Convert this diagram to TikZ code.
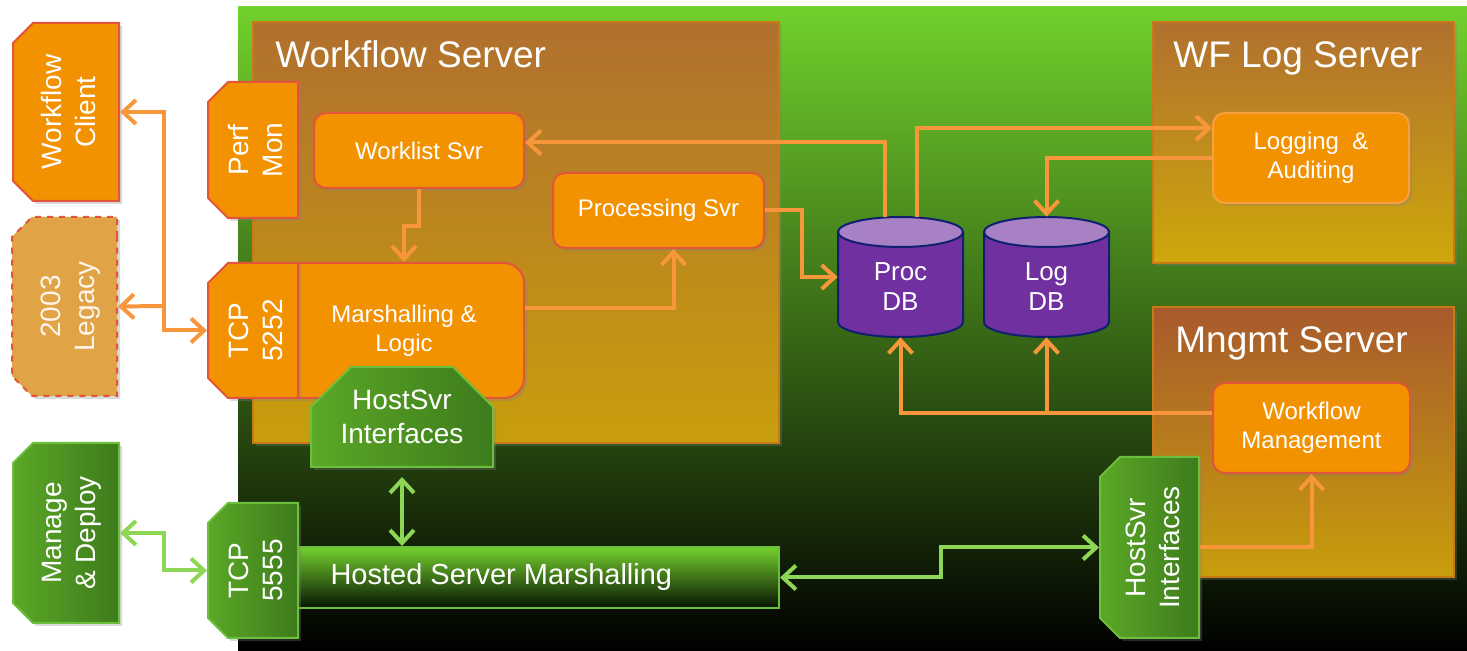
\documentclass[tikz,border=0pt]{standalone}
\usepackage{fontspec}
\setmainfont{Liberation Sans}
\usepackage{graphicx}
\usetikzlibrary{arrows.meta,fit,shapes.misc,shadows}

\definecolor{bgtop}{HTML}{72D12D}
\definecolor{bgmid}{HTML}{4C9323}
\definecolor{srvtop}{HTML}{B1702F}
\definecolor{srvbot}{HTML}{C89E0C}
\definecolor{mngtop}{HTML}{A85A2C}
\definecolor{srvline}{HTML}{C97A14}
\definecolor{ofill}{HTML}{F29200}
\definecolor{oline}{HTML}{E2553A}
\definecolor{lgline}{HTML}{F6A040}
\definecolor{legfill}{HTML}{E0A345}
\definecolor{gleft}{HTML}{5BA827}
\definecolor{gright}{HTML}{3D7B1C}
\definecolor{gline}{HTML}{6CBF3C}
\definecolor{hsmtop}{HTML}{74D02D}
\definecolor{hsmmid}{HTML}{3A7E1A}
\definecolor{hsmbot}{HTML}{081404}
\definecolor{dbfill}{HTML}{7030A0}
\definecolor{dbtopc}{HTML}{A881C5}
\definecolor{dbline}{HTML}{102070}
\definecolor{oarrow}{HTML}{F7963A}
\definecolor{garrow}{HTML}{8ED655}

% rotated two-line label, kept out of the node size
\newcommand{\uptext}[1]{\makebox[0pt]{\hspace{6pt}\rotatebox{90}{\begin{tabular}{@{}c@{}}#1\end{tabular}}}}

\tikzset{
  shad/.style={drop shadow={opacity=0.3, shadow xshift=1.5pt, shadow yshift=-1.5pt}},
  srvbox/.style={draw=srvline, line width=1pt, top color=srvtop, bottom color=srvbot, shad},
  srvtitle/.style={text=white, font=\fontsize{18.5}{22}\selectfont, anchor=base west, inner sep=0pt},
  obox/.style={draw=oline, line width=1pt, fill=ofill, rounded corners=6pt, inner sep=0pt,
    text=white, align=center, font=\fontsize{12}{14.5}\selectfont, shad},
  cutbox/.style={chamfered rectangle, chamfered rectangle sep=10pt, inner sep=0pt,
    line width=1pt, text=white, font=\fontsize{14}{17}\selectfont, shad},
  ocut/.style={cutbox, draw=oline, fill=ofill},
  gcut/.style={cutbox, draw=gline, left color=gleft, right color=gright},
  dbbody/.style={draw=dbline, line width=1pt, fill=dbfill},
  dbtop/.style={draw=dbline, line width=1pt, fill=dbtopc},
  dbtext/.style={text=white, font=\fontsize{13}{15}\selectfont, align=center, inner sep=0pt},
  oarr/.style={draw=oarrow, line width=2pt},
  garr/.style={draw=garrow, line width=2pt}
}

\begin{document}
\begin{tikzpicture}[x=0.5pt, y=-0.5pt, >={Straight Barb[length=6.5pt,width=12pt]}]
\useasboundingbox (0,0) rectangle (1467,651);

% green backdrop
\shade[top color=bgtop, middle color=bgmid, bottom color=black] (238,7) rectangle (1467,651);

% servers
\node[srvbox, fit={(253,22)(779,443)}, inner sep=0pt] (wfsrv) {};
\node[srvbox, fit={(1153,22)(1454,263)}, inner sep=0pt, bottom color=srvbot!90!yellow] (logsrv) {};
\node[srvbox, fit={(1153,307)(1454,577)}, inner sep=0pt, top color=mngtop] (mngsrv) {};
\node[srvtitle] (wftitle) at (275,68) {Workflow Server};
\node[srvtitle] (logtitle) at (1173,68) {WF Log Server};
\node[srvtitle] (mngtitle) at (1175,353) {Mngmt Server};

% left side
\node[ocut, minimum width=53pt, minimum height=89pt, chamfered rectangle corners={north west,south west}] (wfc) at (66,112) {\uptext{Workflow\\Client}};
\node[ocut, minimum width=52.5pt, minimum height=89.5pt, chamfered rectangle corners={north west,south west},
  fill=legfill, dashed, text=white!92!orange] (leg) at (64.5,306.5) {\uptext{2003\\Legacy}};
\node[gcut, minimum width=53pt, minimum height=90pt, chamfered rectangle corners={north west,south west}] (md) at (66,533) {\uptext{Manage\\\& Deploy}};

% workflow server parts
\node[obox, minimum width=105pt, minimum height=37.5pt] (wl) at (419,150.5) {Worklist Svr};
\node[obox, minimum width=105.5pt, minimum height=37.5pt] (ps) at (658.5,210.5) {Processing Svr};
\node[obox, minimum width=120pt, minimum height=67.5pt, rounded corners=10pt] (mar) at (404,330.5) {Marshalling \&\\Logic};
\node[ocut, minimum width=45pt, minimum height=68pt, chamfered rectangle corners={north west,south west}] (perf) at (253,150) {\uptext{Perf\\Mon}};
\node[ocut, minimum width=45pt, minimum height=67.5pt, chamfered rectangle corners={north west,south west}] (tcp1) at (253,330.5) {\uptext{TCP\\5252}};
\node[gcut, minimum width=91pt, minimum height=50pt, chamfered rectangle corners={north west,north east}, align=center] (hs1) at (402,417) {HostSvr\\Interfaces};
\node[draw=gline, line width=1pt, top color=hsmtop, middle color=hsmmid, bottom color=hsmbot,
  minimum width=240.5pt, minimum height=30.5pt, inner sep=0pt, text=white, font=\fontsize{14.5}{17}\selectfont] (hsm) at (538.5,577.5)
  {\makebox[240pt][l]{\hspace{16pt}Hosted Server Marshalling}};
\node[gcut, minimum width=45pt, minimum height=67.5pt, chamfered rectangle corners={north west,south west}] (tcp2) at (253,570.5) {\uptext{TCP\\5555}};

% databases
\foreach \x/\n/\t in {838/pdb/Proc,984/ldb/Log}{
  \filldraw[dbbody] (\x,232) -- (\x,322) arc[start angle=180, end angle=360, x radius=31.25pt, y radius=7.5pt] -- ({\x+125},232) -- cycle;
  \filldraw[dbtop] ({\x+62.5},232) ellipse[x radius=31.25pt, y radius=7.5pt];
  \node[fit={(\x,217)({\x+125},337)}, inner sep=0pt] (\n) {};
  \node[dbtext] (\n txt) at ({\x+62.5},287) {\t\\DB};
}

% log and management parts
\node[obox, minimum width=98pt, minimum height=45pt, draw=lgline] (lg) at (1311,158) {Logging~~\&\\Auditing};
\node[obox, minimum width=98.5pt, minimum height=45pt] (wm) at (1311.5,428) {Workflow\\Management};
\node[gcut, minimum width=49.5pt, minimum height=90.5pt, chamfered rectangle corners={north west,south west}] (hs2) at (1149.5,547.5) {\uptext{HostSvr\\Interfaces}};

% orange links
\coordinate (lj) at (163,306);
\draw[oarr,<->] (wfc.east) -- ++(44,0) |- (tcp1.west);
\draw[oarr,->] (lj) -- (leg.east);
\draw[oarr,->] (wl.south) -- ++(0,37) -| (mar.north);
\draw[oarr,->] ([yshift=11pt]mar.east) -| ([xshift=7.5pt]ps.south);
\draw[oarr,->] (ps.east) -- ++(37,0) |- (pdb.west);
\draw[oarr,->] ([xshift=-8pt]pdb.north) |- ([yshift=4pt]wl.east);
\draw[oarr,->] ([xshift=8pt]pdb.north) |- ([yshift=15pt]lg.west);
\draw[oarr,->] (lg.west) -| (ldb.north);
\draw[oarr,->] ([yshift=7.5pt]wm.west) -| (ldb.south);
\draw[oarr,->] ([yshift=7.5pt]wm.west) -| (pdb.south);
\draw[oarr,->] (hs2.east) -| (wm.south);

% green links
\draw[garr,<->, shorten <=4.5pt] (hs1.south) -- (hs1.south |- hsm.north);
\draw[garr,<->] (md.east) -- ++(44,0) |- (tcp2.west);
\draw[garr,<->] (hsm.east) -- ++(161,0) |- (hs2.west);
\end{tikzpicture}
\end{document}
